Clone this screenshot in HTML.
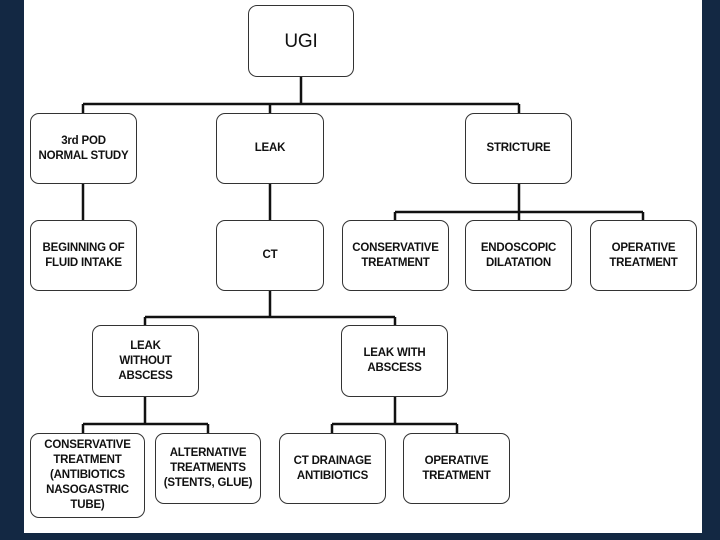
<!DOCTYPE html>
<html><head><style>
body{margin:0;width:720px;height:540px;background:#132843;position:relative;overflow:hidden;font-family:"Liberation Sans",Arial,sans-serif}
#w{position:absolute;left:24px;top:0;width:678px;height:533px;background:#fff}
.b{position:absolute;box-sizing:border-box;border:1.5px solid #333;border-radius:9px;background:#fff;display:flex;align-items:center;justify-content:center;text-align:center;font-weight:bold;font-size:11.5px;line-height:15px;color:#111;letter-spacing:-0.2px}
svg{position:absolute;left:0;top:0}
</style></head><body>
<div id="w"></div>
<svg width="720" height="540"><g stroke="#111" stroke-width="2.5" fill="none">
<path d="M301 77V104M83 104H519M83 104V113M270 104V113M519 104V113"/>
<path d="M83 183V220M270 183V220"/>
<path d="M519 183V212M395 212H643M395 212V220M519 212V220M643 212V220"/>
<path d="M270 290V317M145 317H395M145 317V325M395 317V325"/>
<path d="M145 397V424M83 424H208M83 424V433M208 424V433"/>
<path d="M395 397V424M332 424H457M332 424V433M457 424V433"/>
</g></svg>
<div class="b" style="left:248px;top:5px;width:106px;height:72px;font-weight:normal;font-size:19px">UGI</div>
<div class="b" style="left:30px;top:113px;width:107px;height:71px">3rd POD<br>NORMAL STUDY</div>
<div class="b" style="left:216px;top:113px;width:108px;height:71px">LEAK</div>
<div class="b" style="left:465px;top:113px;width:107px;height:71px">STRICTURE</div>
<div class="b" style="left:30px;top:220px;width:107px;height:71px">BEGINNING OF<br>FLUID INTAKE</div>
<div class="b" style="left:216px;top:220px;width:108px;height:71px">CT</div>
<div class="b" style="left:342px;top:220px;width:107px;height:71px">CONSERVATIVE<br>TREATMENT</div>
<div class="b" style="left:465px;top:220px;width:107px;height:71px">ENDOSCOPIC<br>DILATATION</div>
<div class="b" style="left:590px;top:220px;width:107px;height:71px">OPERATIVE<br>TREATMENT</div>
<div class="b" style="left:92px;top:325px;width:107px;height:72px">LEAK<br>WITHOUT<br>ABSCESS</div>
<div class="b" style="left:341px;top:325px;width:107px;height:72px">LEAK WITH<br>ABSCESS</div>
<div class="b" style="left:30px;top:433px;width:115px;height:85px">CONSERVATIVE<br>TREATMENT<br>(ANTIBIOTICS<br>NASOGASTRIC<br>TUBE)</div>
<div class="b" style="left:155px;top:433px;width:106px;height:71px">ALTERNATIVE<br>TREATMENTS<br>(STENTS, GLUE)</div>
<div class="b" style="left:279px;top:433px;width:107px;height:71px">CT DRAINAGE<br>ANTIBIOTICS</div>
<div class="b" style="left:403px;top:433px;width:107px;height:71px">OPERATIVE<br>TREATMENT</div>
</body></html>
